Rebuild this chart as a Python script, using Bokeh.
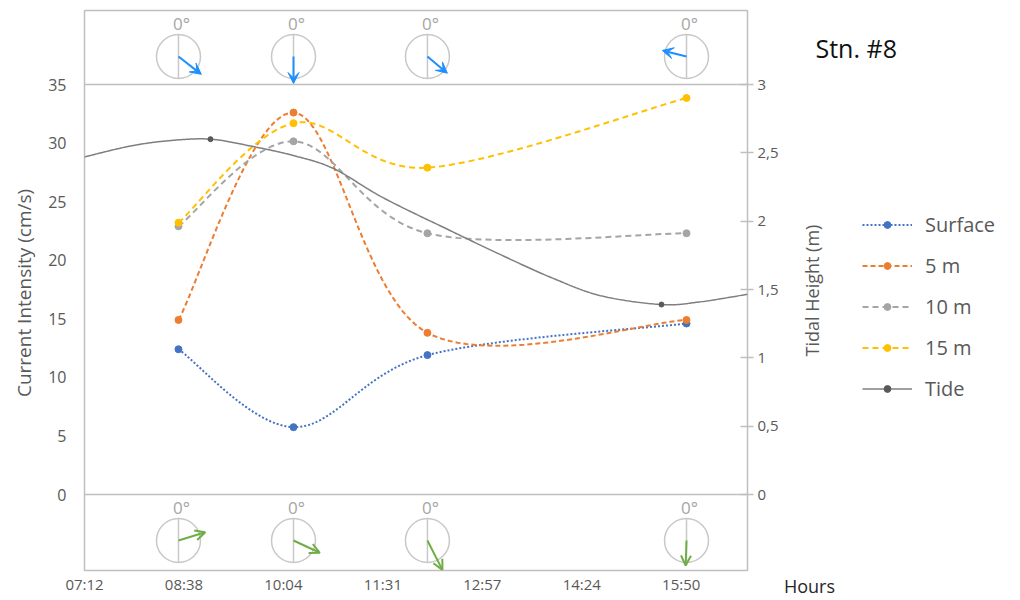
import math
from bokeh.plotting import figure
from bokeh.layouts import row
from bokeh.models import (Range1d, LinearAxis, FixedTicker, Span, Legend, LegendItem,
                          ColumnDataSource, Arrow, VeeHead, OpenHead, Label)
from bokeh.core.properties import value
from bokeh.embed import file_html
from bokeh.resources import INLINE

# ---------------- data ----------------
obs_times = [0.3567, 0.4261, 0.5069, 0.6632]          # fraction of a day
surface = [12.4, 5.75, 11.9, 14.6]
m5 = [14.9, 32.6, 13.8, 14.9]
m10 = [22.9, 30.15, 22.3, 22.3]
m15 = [23.2, 31.7, 27.9, 33.85]

tide_times = [0.3000, 0.3278, 0.3519, 0.3760, 0.4001, 0.4261, 0.4502, 0.4804,
              0.5208, 0.5510, 0.5811, 0.6113, 0.6481, 0.6716, 0.7000]
tide_heights = [2.47, 2.55, 2.59, 2.60, 2.55, 2.48, 2.385, 2.17,
                1.93, 1.755, 1.59, 1.455, 1.39, 1.41, 1.465]
tide_marker_times = [0.3760, 0.6481]
tide_marker_heights = [2.60, 1.39]

top_dirs = [128, 180, 130, 284]        # degrees from north (blue arrows)
top_lens = [29, 27, 26, 25]
bottom_dirs = [73, 115, 153, 182]      # degrees from north (green arrows)
bottom_lens = [28, 29, 33, 25]

x_ticks = [0.30, 0.36, 0.42, 0.48, 0.54, 0.60, 0.66]
x_labels = ["07:12", "08:38", "10:04", "11:31", "12:57", "14:24", "15:50"]
y_ticks = [0, 5, 10, 15, 20, 25, 30, 35]
tide_ticks = [0, 0.5, 1, 1.5, 2, 2.5, 3]
tide_labels = ["0", "0,5", "1", "1,5", "2", "2,5", "3"]
series_names = ["Surface", "5 m", "10 m", "15 m", "Tide"]
x_title = "Hours"

# ---------------- layout constants ----------------
FONT = "Open Sans"
GREY = "#595959"
PX_PER_DAY = 663 / 0.4
PX_PER_UNIT = 410 / 35.0
PX_PER_M = 410 / 3.0
Y_LO, Y_HI = (494 - 570) / PX_PER_UNIT, (494 - 10) / PX_PER_UNIT
TOP_C = (494 - 56) / PX_PER_UNIT
BOT_C = (494 - 540) / PX_PER_UNIT
R_PX = 22
RIGHT_BORDER = 35
SIDE_X0 = 84 + 663 + RIGHT_BORDER      # canvas x where the side panel starts
SIDE_W = 1020 - SIDE_X0
HOURS_X = SIDE_X0 + 27


def smooth(xs, ys, sx, sy, n=30):
    P = [(x * sx, y * sy) for x, y in zip(xs, ys)]
    outx, outy = [], []
    for i in range(len(P) - 1):
        p0 = P[i - 1] if i > 0 else P[i]
        p1, p2 = P[i], P[i + 1]
        p3 = P[i + 2] if i + 2 < len(P) else P[i + 1]
        c1 = (p1[0] + (p2[0] - p0[0]) / 6, p1[1] + (p2[1] - p0[1]) / 6)
        c2 = (p2[0] - (p3[0] - p1[0]) / 6, p2[1] - (p3[1] - p1[1]) / 6)
        for k in range(n + (1 if i == len(P) - 2 else 0)):
            t = k / n
            a, b, c, d = (1 - t) ** 3, 3 * t * (1 - t) ** 2, 3 * t * t * (1 - t), t ** 3
            outx.append((a * p1[0] + b * c1[0] + c * c2[0] + d * p2[0]) / sx)
            outy.append((a * p1[1] + b * c1[1] + c * c2[1] + d * p2[1]) / sy)
    return outx, outy


p = figure(frame_width=663, frame_height=560, output_backend="svg", toolbar_location=None,
           x_range=Range1d(0.3, 0.7), y_range=Range1d(Y_LO, Y_HI),
           min_border_left=84, min_border_right=RIGHT_BORDER, min_border_top=10,
           min_border_bottom=30)
p.extra_y_ranges = {"tide": Range1d(Y_LO * 3 / 35, Y_HI * 3 / 35)}
p.outline_line_color = "#bfbfbf"
p.outline_line_width = 1.5
p.xgrid.visible = False
p.ygrid.visible = False

# axes
xa = p.xaxis[0]
xa.ticker = FixedTicker(ticks=x_ticks)
xa.major_label_overrides = {t: l for t, l in zip(x_ticks, x_labels)}
xa.axis_line_color = None
xa.major_tick_line_color = None
xa.minor_tick_line_color = None
xa.major_tick_in = 0
xa.major_tick_out = 0
xa.major_label_standoff = 3
xa.major_label_text_font = FONT
xa.major_label_text_font_size = "15px"
xa.major_label_text_color = GREY

ya = p.yaxis[0]
ya.ticker = FixedTicker(ticks=y_ticks)
ya.axis_line_color = None
ya.major_tick_line_color = None
ya.minor_tick_line_color = None
ya.major_tick_in = 0
ya.major_tick_out = 0
ya.major_label_standoff = 18
ya.major_label_text_font = FONT
ya.major_label_text_font_size = "16px"
ya.major_label_text_color = GREY
ya.axis_label = "Current Intensity  (cm/s)"
ya.axis_label_text_font = FONT
ya.axis_label_text_font_style = "normal"
ya.axis_label_text_font_size = "19px"
ya.axis_label_text_color = GREY
ya.axis_label_standoff = 8

ra = LinearAxis(y_range_name="tide", ticker=FixedTicker(ticks=tide_ticks))
ra.major_label_overrides = {t: l for t, l in zip(tide_ticks, tide_labels)}
ra.axis_line_color = None
ra.major_tick_in = 7
ra.major_tick_out = 6
ra.major_tick_line_color = "#bfbfbf"
ra.major_tick_line_width = 1.5
ra.minor_tick_line_color = None
ra.major_label_standoff = 4
ra.major_label_text_font = FONT
ra.major_label_text_font_size = "15px"
ra.major_label_text_color = GREY
p.add_layout(ra, "right")

for loc in (0, 35):
    p.add_layout(Span(location=loc, dimension="width", line_color="#bfbfbf", line_width=1.5))

# series
TIDE_COL = "#7F7F7F"
styles = [
    (surface, "#4472C4", "2 2"),
    (m5, "#ED7D31", "5 3"),
    (m10, "#A5A5A5", "6 4"),
    (m15, "#FFC000", "6 4"),
]
for vals, col, dash in styles:
    sx, sy = smooth(obs_times, vals, PX_PER_DAY, PX_PER_UNIT)
    p.line(sx, sy, line_color=col, line_width=2, line_dash=dash)
    p.scatter(obs_times, vals, size=7, fill_color=col, line_color=col)

tx, ty = smooth(tide_times, tide_heights, PX_PER_DAY, PX_PER_M)
p.line(tx, ty, line_color=TIDE_COL, line_width=1.5, y_range_name="tide")
p.scatter(tide_marker_times, tide_marker_heights, size=5, fill_color=GREY,
          line_color=GREY, y_range_name="tide")

# compass roses
for cy in (TOP_C, BOT_C):
    p.scatter(obs_times, [cy] * 4, marker="circle", size=2 * R_PX, fill_color=None,
              line_color="#c8c8c8", line_width=1.5)
    p.segment(obs_times, [cy - R_PX / PX_PER_UNIT] * 4, obs_times, [cy + R_PX / PX_PER_UNIT] * 4,
              line_color="#c8c8c8", line_width=1.5)
    p.text(obs_times, [cy + 33 / PX_PER_UNIT] * 4, text=["0°"] * 4, text_align="center",
           text_baseline="middle", x_offset=3, text_font=value(FONT), text_font_size="17px",
           text_color="#a6a6a6")


def arrow_src(dirs, lens, cy):
    xs, ys, xe, ye = [], [], [], []
    for t, d, L in zip(obs_times, dirs, lens):
        r = math.radians(d)
        xs.append(t)
        ys.append(cy)
        xe.append(t + L * math.sin(r) / PX_PER_DAY)
        ye.append(cy + L * math.cos(r) / PX_PER_UNIT)
    return ColumnDataSource(dict(xs=xs, ys=ys, xe=xe, ye=ye))


p.add_layout(Arrow(source=arrow_src(top_dirs, top_lens, TOP_C), x_start="xs", y_start="ys",
                   x_end="xe", y_end="ye", line_color="#1E8FFF", line_width=2,
                   end=VeeHead(size=11, fill_color="#1E8FFF", line_color="#1E8FFF")))
p.add_layout(Arrow(source=arrow_src(bottom_dirs, bottom_lens, BOT_C), x_start="xs", y_start="ys",
                   x_end="xe", y_end="ye", line_color="#70AD47", line_width=2,
                   end=OpenHead(size=10, line_color="#70AD47", line_width=2)))

# ---------------- side panel: axis title, legend, station, "Hours" ----------------
# its frame is aligned with the main frame (canvas y 10..570), so use canvas pixels
q = figure(width=SIDE_W, height=600, output_backend="svg", toolbar_location=None,
           x_range=Range1d(SIDE_X0, SIDE_X0 + SIDE_W), y_range=Range1d(570, 10),
           y_axis_type=None,
           min_border_left=0, min_border_right=0, min_border_top=10, min_border_bottom=30)
q.outline_line_color = None
q.xgrid.visible = False
q.ygrid.visible = False
qa = q.xaxis[0]
qa.ticker = FixedTicker(ticks=[HOURS_X])
qa.major_label_overrides = {HOURS_X: x_title}
qa.axis_line_color = None
qa.major_tick_line_color = None
qa.minor_tick_line_color = None
qa.major_tick_in = 0
qa.major_tick_out = 0
qa.major_label_standoff = 3
qa.major_label_text_font = FONT
qa.major_label_text_font_size = "18px"
qa.major_label_text_color = "#262626"

# legend proxies: same series, drawn on the side panel's ranges (outside its view)
items = []
legend_series = [(surface, "#4472C4", "2 2", 2), (m5, "#ED7D31", "5 3", 2),
                 (m10, "#A5A5A5", "6 4", 2), (m15, "#FFC000", "6 4", 2)]
for name, (vals, col, dash, lw) in zip(series_names[:4], legend_series):
    l = q.line(obs_times, vals, line_color=col, line_width=lw, line_dash=dash)
    s = q.scatter(obs_times, vals, size=7, fill_color=col, line_color=col)
    items.append(LegendItem(label=name, renderers=[l, s]))
lt = q.line(tide_times, tide_heights, line_color=TIDE_COL, line_width=1.5)
st = q.scatter(tide_marker_times, tide_marker_heights, size=5, fill_color=GREY, line_color=GREY)
items.append(LegendItem(label=series_names[4], renderers=[lt, st]))

legend = Legend(items=items, location=(862 - SIDE_X0, 570 - 402), padding=0, margin=0,
                spacing=13, glyph_width=50, glyph_height=17, label_height=28, label_standoff=13,
                border_line_color=None, background_fill_alpha=0,
                label_text_font=FONT, label_text_font_size="20px", label_text_color=GREY)
q.add_layout(legend)

q.add_layout(Label(x=811, y=290, text="Tidal Height (m)", angle=math.pi / 2,
                   text_align="center", text_baseline="middle",
                   text_font=FONT, text_font_size="18px", text_color=GREY))
q.add_layout(Label(x=815, y=47, text="Stn. #8", text_align="left", text_baseline="middle",
                   text_font=FONT, text_font_size="25px", text_color="#111111"))

layout = row(p, q)
open("out.html", "w").write(file_html(layout, INLINE))
